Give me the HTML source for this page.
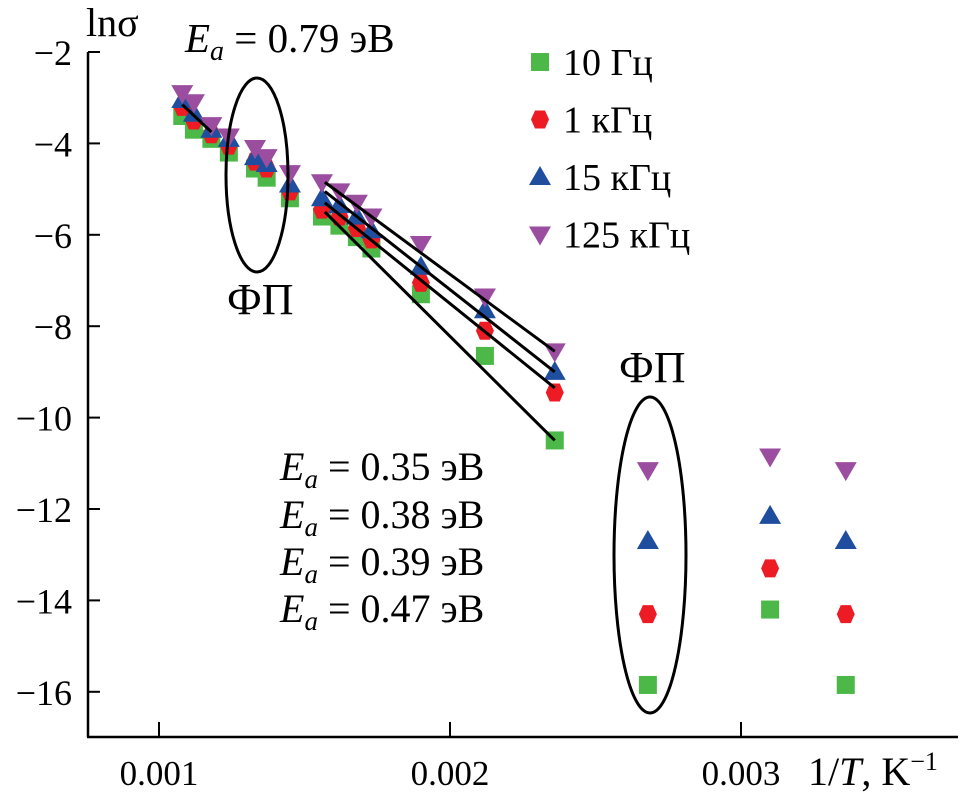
<!DOCTYPE html>
<html><head><meta charset="utf-8"><style>
body{margin:0;background:#fff}
svg{display:block;font-family:"Liberation Serif",serif}
</style></head><body>
<svg id="chart" width="965" height="799" viewBox="0 0 965 799" xmlns="http://www.w3.org/2000/svg">
<g id="axes"></g>
<g id="marks"></g>
<g id="anno">
<text x="86" y="36" font-size="40">lnσ</text>
<text x="185" y="52" font-size="41"><tspan font-style="italic">E</tspan><tspan font-style="italic" font-size="28" dy="8">a</tspan><tspan dy="-8"> = 0.79 эВ</tspan></text>
<text x="227" y="314" font-size="44">ФП</text>
<text x="619" y="382" font-size="44">ФП</text>
<text x="280" y="480" font-size="40"><tspan font-style="italic">E</tspan><tspan font-style="italic" font-size="27" dy="8">a</tspan><tspan dy="-8"> = 0.35 эВ</tspan></text>
<text x="280" y="528" font-size="40"><tspan font-style="italic">E</tspan><tspan font-style="italic" font-size="27" dy="8">a</tspan><tspan dy="-8"> = 0.38 эВ</tspan></text>
<text x="280" y="575" font-size="40"><tspan font-style="italic">E</tspan><tspan font-style="italic" font-size="27" dy="8">a</tspan><tspan dy="-8"> = 0.39 эВ</tspan></text>
<text x="280" y="622" font-size="40"><tspan font-style="italic">E</tspan><tspan font-style="italic" font-size="27" dy="8">a</tspan><tspan dy="-8"> = 0.47 эВ</tspan></text>
<text x="808" y="785" font-size="40">1/<tspan font-style="italic">T</tspan>, K<tspan font-size="26" dy="-15">−1</tspan></text>
<ellipse cx="257" cy="175" rx="31" ry="97" fill="none" stroke="#000" stroke-width="3"/>
<ellipse cx="650" cy="555" rx="36" ry="158" fill="none" stroke="#000" stroke-width="3"/>
</g>
<g id="legend"></g>
</svg>
<script>
const xVals=[0.00108,0.00112,0.00118,0.00124,0.00133,0.00137,0.00145,0.00156,0.00162,0.00168,0.00173,0.0019,0.00212,0.00236,0.00268,0.0031,0.00336];
const s10Hz=[-3.4,-3.7,-3.9,-4.2,-4.55,-4.75,-5.2,-5.6,-5.8,-6.05,-6.3,-7.3,-8.65,-10.5,-15.85,-14.2,-15.85];
const s1kHz=[-3.2,-3.5,-3.8,-4.05,-4.4,-4.55,-5.05,-5.45,-5.6,-5.85,-6.1,-7.05,-8.1,-9.45,-14.3,-13.3,-14.3];
const s15kHz=[-3.05,-3.35,-3.7,-3.9,-4.3,-4.45,-4.9,-5.2,-5.35,-5.6,-5.9,-6.7,-7.65,-9.0,-12.7,-12.15,-12.7];
const s125kHz=[-2.9,-3.1,-3.6,-3.85,-4.1,-4.3,-4.65,-4.85,-5.05,-5.3,-5.6,-6.2,-7.35,-8.55,-11.15,-10.85,-11.15];
const seriesNames=["10 Гц","1 кГц","15 кГц","125 кГц"];
const yTicks=[-2,-4,-6,-8,-10,-12,-14,-16];
const xTicks=[0.001,0.002,0.003];
const xTickLabels=["0.001","0.002","0.003"];
const fitStartX=0.00157, fitEndX=0.00236;
const fitStart=[-5.5,-5.3,-5.05,-4.85];
const fitEnd=[-10.5,-9.35,-9.0,-8.55];
const lowFit=[[0.00108,-3.15],[0.00118,-3.75]];

const NS="http://www.w3.org/2000/svg";
const xs=v=>159+(v-0.001)/0.001*291;
const ys=v=>52+(-2-v)*45.7;
function mk(t,a,p){const e=document.createElementNS(NS,t);for(const k in a)e.setAttribute(k,a[k]);p.appendChild(e);return e;}
const axes=document.getElementById('axes');
let l=mk('line',{x1:88,y1:52,x2:88,y2:737,stroke:'#000','stroke-width':2.5},axes);


l=mk('line',{x1:87,y1:737,x2:958,y2:737,stroke:'#000','stroke-width':2.5},axes);


yTicks.forEach(v=>{
 const t=mk('line',{x1:88,x2:100,y1:ys(v),y2:ys(v),stroke:'#000','stroke-width':2},axes);
 
 
 const tx=mk('text',{x:72,y:ys(v)+13,'text-anchor':'end','font-size':36},axes);
 
 
 tx.textContent='−'+Math.abs(v);
});
xTicks.forEach((v,i)=>{
 const t=mk('line',{x1:xs(v),x2:xs(v),y1:722,y2:737,stroke:'#000','stroke-width':2},axes);
 
 
 const tx=mk('text',{x:xs(v),y:785,'text-anchor':'middle','font-size':35},axes);
 
 
 tx.textContent=xTickLabels[i];
});
const colors=['#4cb848','#ed1c24','#1f4e9e','#9b4ea0'];
function marker(type,x,y,c,p){
 let e;
 if(type===0)e=mk('rect',{x:x-9,y:y-9,width:18,height:18,fill:c},p);
 else if(type===1)e=mk('polygon',{points:`${x-5},${y-9} ${x+5},${y-9} ${x+9},${y} ${x+5},${y+9} ${x-5},${y+9} ${x-9},${y}`,fill:c},p);
 else if(type===2)e=mk('polygon',{points:`${x},${y-11} ${x+11},${y+8} ${x-11},${y+8}`,fill:c},p);
 else e=mk('polygon',{points:`${x-11},${y-8} ${x+11},${y-8} ${x},${y+11}`,fill:c},p);
 return e;
}
const marks=document.getElementById('marks');
const all=[s10Hz,s1kHz,s15kHz,s125kHz];
all.forEach((s,si)=>{
 const g=mk('g',{},marks);
 
 
 s.forEach((v,i)=>{
  const m=marker(si,xs(xVals[i]),ys(v),colors[si],g);
  
  
 });
});
fitStart.forEach((v,i)=>{
 const f=mk('line',{x1:xs(fitStartX),y1:ys(v),x2:xs(fitEndX),y2:ys(fitEnd[i]),stroke:'#000','stroke-width':3},marks);
 
 
});
l=mk('line',{x1:xs(lowFit[0][0]),y1:ys(lowFit[0][1]),x2:xs(lowFit[1][0]),y2:ys(lowFit[1][1]),stroke:'#000','stroke-width':3},marks);


const lg=document.getElementById('legend');
seriesNames.forEach((n,i)=>{
 const y=62+i*57.5;
 const m=marker(i,540,y,colors[i],lg);
 
 
 const t=mk('text',{x:563,y:y+13,'font-size':38},lg);
 
 
 t.textContent=n;
});
</script>
</body></html>
